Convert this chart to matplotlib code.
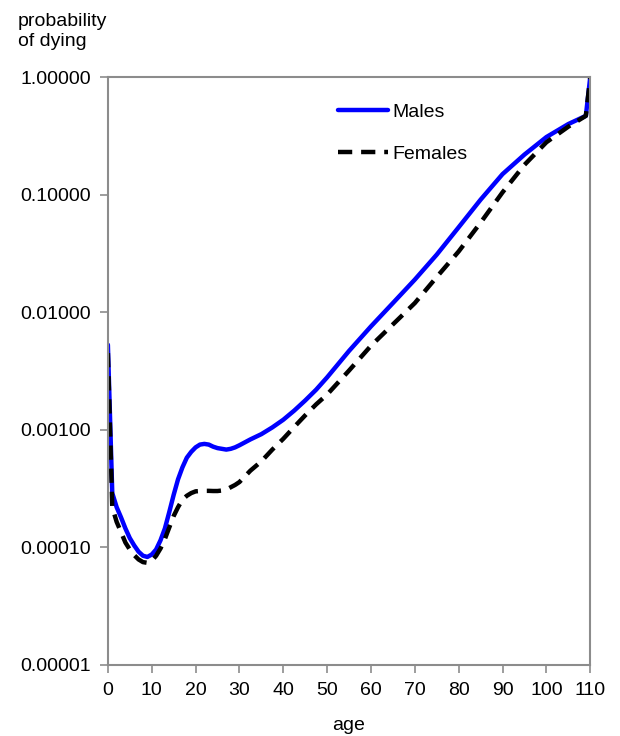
import matplotlib
matplotlib.use("Agg")
import matplotlib.pyplot as plt
from matplotlib.ticker import FixedLocator, FormatStrFormatter, NullLocator

plt.rcParams['font.family'] = ['Liberation Sans', 'DejaVu Sans']

# age grid and probabilities
ages = [0, 1, 2, 3, 4, 5, 6, 7, 8, 9, 10, 11, 12, 13, 14, 15, 16, 17, 18, 19,
        20, 21, 22, 23, 24, 25, 26, 27, 28, 29, 30, 32.5, 35, 37.5, 40, 42.5,
        45, 47.5, 50, 55, 60, 65, 70, 75, 80, 85, 90, 95, 100, 105, 109, 110]
males = [0.0053, 0.00029, 0.00022, 0.00018, 0.000145, 0.000120, 0.000104, 0.000092,
         0.000085, 0.000083, 0.000087, 0.000096, 0.000115, 0.000145, 0.00020, 0.00028,
         0.00038, 0.00048, 0.00058, 0.00065, 0.00071, 0.00075, 0.00076, 0.00075,
         0.00072, 0.00070, 0.00069, 0.00068, 0.00069, 0.00071, 0.00074, 0.00083,
         0.00092, 0.00105, 0.00122, 0.00146, 0.00178, 0.0022, 0.0028, 0.0047, 0.0076,
         0.0120, 0.019, 0.031, 0.053, 0.091, 0.150, 0.22, 0.31, 0.40, 0.47, 1.0]
females = [0.0045, 0.00022, 0.000165, 0.000135, 0.000110, 0.000096, 0.000086, 0.000079,
           0.000075, 0.000074, 0.000077, 0.000085, 0.000098, 0.000118, 0.000148, 0.000185,
           0.00022, 0.000255, 0.000275, 0.00029, 0.00030, 0.000302, 0.000303, 0.000303,
           0.000302, 0.000302, 0.000305, 0.00031, 0.000325, 0.00034, 0.00036, 0.00045,
           0.00054, 0.00068, 0.00084, 0.00106, 0.00133, 0.00165, 0.0020, 0.0032, 0.0052,
           0.0079, 0.0120, 0.020, 0.033, 0.058, 0.105, 0.18, 0.28, 0.38, 0.47, 1.0]

x_ticks = list(range(0, 111, 10))
y_ticks = [0.00001, 0.0001, 0.001, 0.01, 0.1, 1.0]

fig = plt.figure(figsize=(6.2, 7.36), dpi=100)
ax = fig.add_axes([0.174, 0.0965, 0.778, 0.7985])

ax.plot(ages, males, color="#0000ff", lw=3.2, label="Males",
        solid_joinstyle="round", solid_capstyle="round")
ax.plot(ages, females, color="black", lw=3.2, ls=(0, (3.2, 2.0)), label="Females")

ax.set_yscale("log")
ax.set_xlim(0, 110)
ax.set_ylim(0.00001, 1.0)
ax.xaxis.set_major_locator(FixedLocator(x_ticks))
ax.yaxis.set_major_locator(FixedLocator(y_ticks))
ax.yaxis.set_minor_locator(NullLocator())
ax.yaxis.set_major_formatter(FormatStrFormatter("%.5f"))

for s in ax.spines.values():
    s.set_color("#8c8c8c")
    s.set_linewidth(1.5)
ax.tick_params(direction="out", length=6, width=1.2, color="#8c8c8c",
               labelsize=14, labelcolor="black", pad=6)

ax.set_xlabel("age", fontsize=14, labelpad=13)
fig.text(0.029, 0.983, "probability\nof dying", fontsize=14, ha="left", va="top",
         linespacing=1.3)

ax.legend(loc="upper left", bbox_to_anchor=(0.44, 0.985), frameon=False, fontsize=14,
          handlelength=2.6, labelspacing=1.25, handletextpad=0.2)

fig.savefig("out.png", dpi=100)
